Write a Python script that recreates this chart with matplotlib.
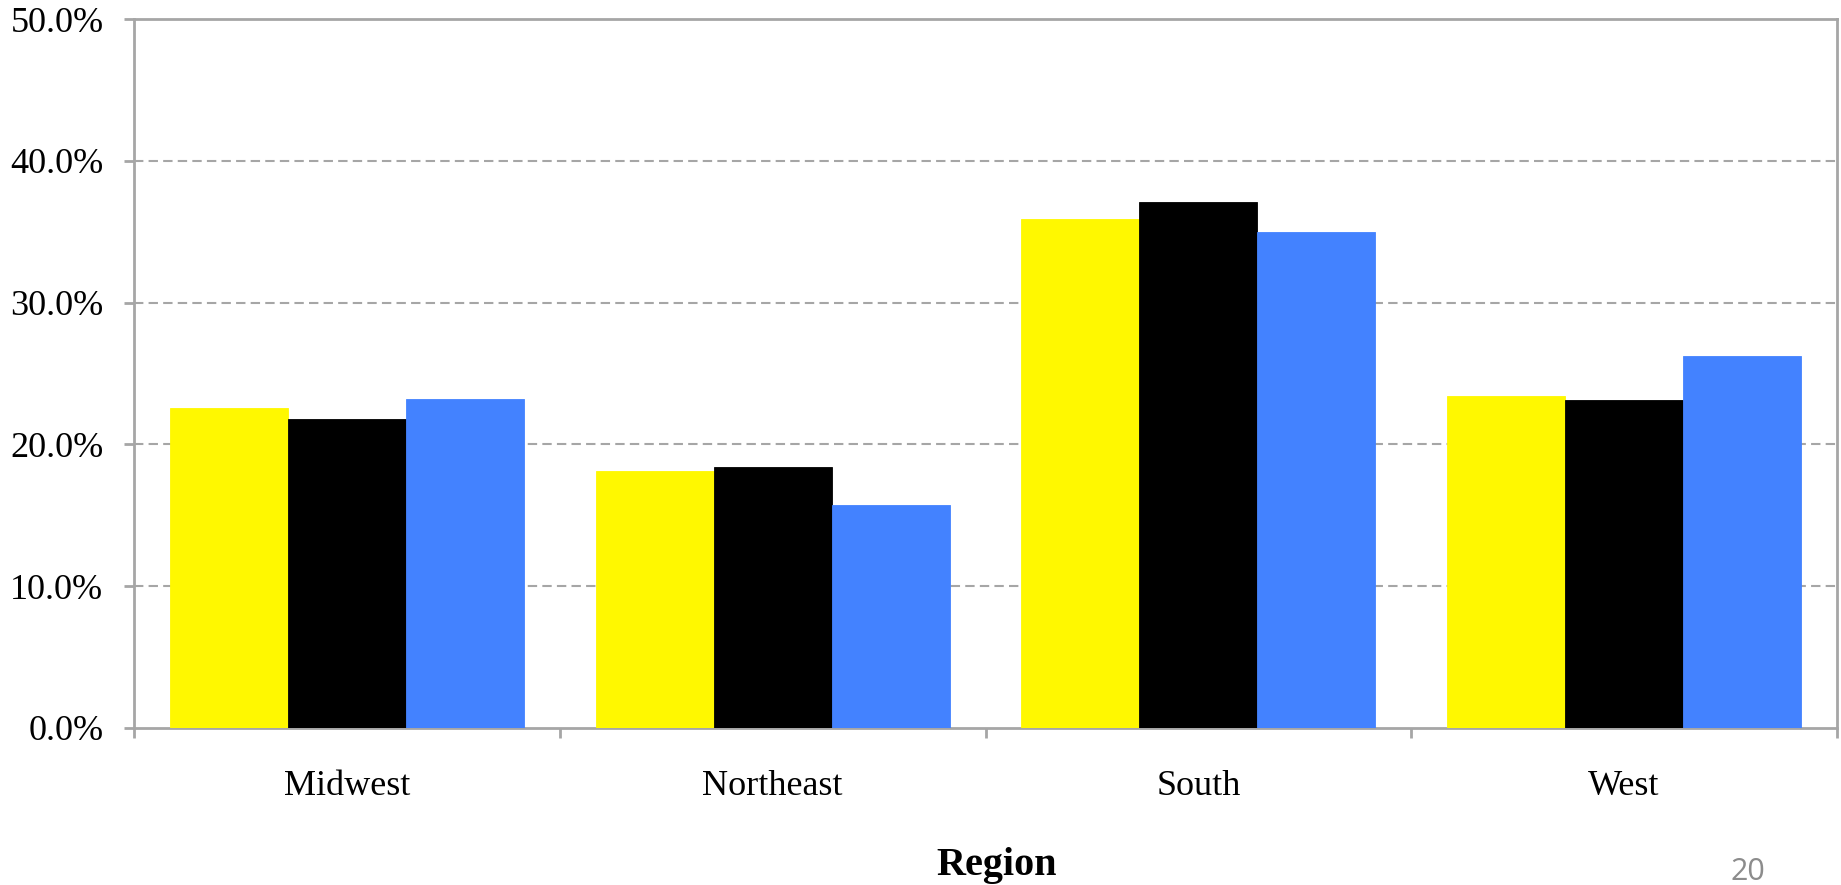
import matplotlib
matplotlib.use("Agg")
import matplotlib.pyplot as plt
import numpy as np
from matplotlib.ticker import FixedLocator, FuncFormatter

regions = ["Midwest", "Northeast", "South", "West"]
series_a = [22.6, 18.1, 35.9, 23.4]   # yellow
series_b = [21.8, 18.4, 37.1, 23.1]   # black
series_c = [23.2, 15.7, 35.0, 26.2]   # blue
y_ticks = [0, 10, 20, 30, 40, 50]

colors = ["#FFF800", "#000000", "#4382FF"]
grey = "#A6A6A6"

W, H = 1841, 885
fig = plt.figure(figsize=(W / 100, H / 100), dpi=100)
ax = fig.add_axes([134 / W, (H - 728) / H, (1837 - 134) / W, (728 - 19) / H])

x = np.arange(len(regions))
bw = 0.832 / 3
for i, (vals, c) in enumerate(zip([series_a, series_b, series_c], colors)):
    ax.bar(x + (i - 1) * bw, vals, width=bw, color=c, edgecolor=c,
           linewidth=0.6, zorder=3)

ax.set_xlim(-0.5, len(regions) - 0.5)
ax.set_ylim(0, 50)

# gridlines
ax.set_yticks(y_ticks)
ax.yaxis.set_major_formatter(FuncFormatter(lambda v, p: f"{v:.1f}%"))
for v in y_ticks[1:-1]:
    ax.axhline(v, color=grey, lw=1.5, ls=(0, (4.5, 2.5)), zorder=1)

for s in ax.spines.values():
    s.set_color(grey)
    s.set_linewidth(2.0)

# category boundaries carry the ticks, labels sit at the centres
ax.xaxis.set_major_locator(FixedLocator(np.arange(-0.5, len(regions), 1.0)))
ax.xaxis.set_major_formatter(FuncFormatter(lambda v, p: ""))
ax.xaxis.set_minor_locator(FixedLocator(x))
ax.set_xticks(x, minor=True)
ax.set_xticklabels(regions, minor=True)

serif = ["Liberation Serif", "DejaVu Serif"]
ax.tick_params(axis="x", which="major", length=7, width=2, color=grey,
               direction="out")
ax.tick_params(axis="x", which="minor", length=0, pad=30)
ax.tick_params(axis="y", which="major", length=7, width=2, color=grey,
               direction="out", pad=15)
for lab in ax.get_xticklabels(minor=True) + ax.get_yticklabels():
    lab.set_fontfamily(serif)
    lab.set_fontsize(26)
    lab.set_color("black")

fig.text(997 / W, 1 - 866 / H, "Region", ha="center", va="center",
         fontfamily=serif, fontsize=29, fontweight="bold")
fig.text(1748 / W, 1 - 872 / H, "20", ha="center", va="center",
         fontfamily=["Open Sans", "DejaVu Sans"], fontsize=22, color="#8C8C8C")

fig.savefig("out.png", dpi=100)
